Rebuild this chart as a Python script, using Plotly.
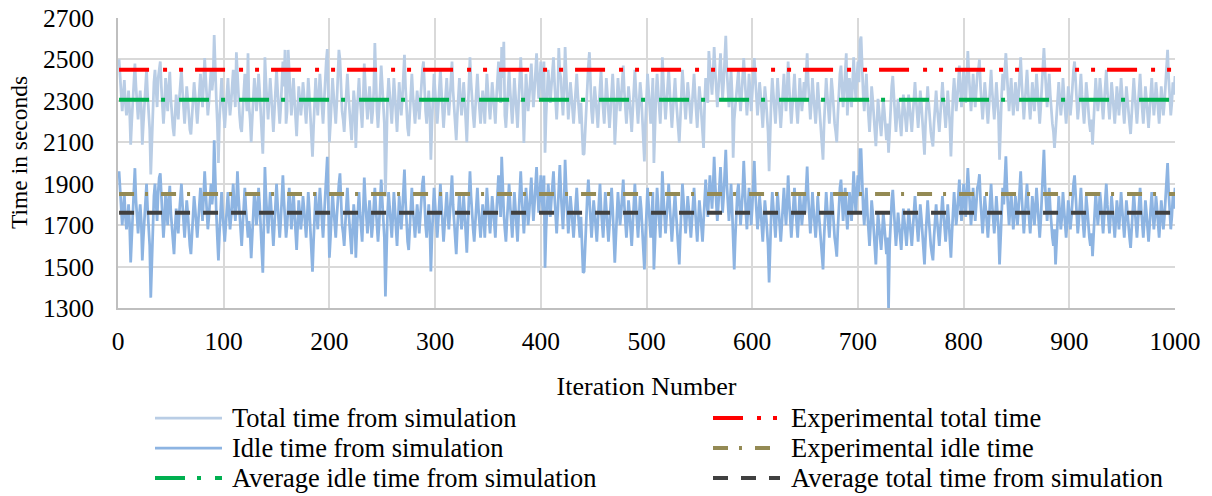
import plotly.graph_objects as go

# ---------------- data ----------------
total_time = [
    2500, 2420, 2310, 2250, 2330, 2400, 2290, 2230, 2270, 2350, 2250, 2088, 2200, 2310, 2420, 2480, 2370, 2260, 2210, 2290, 2350, 2270, 2088, 2190, 2300, 2390, 2450, 2330, 2240, 2160, 1945, 2120, 2270, 2390, 2450, 2350, 2270, 2410, 2470, 2490, 2370, 2250, 2190, 2270, 2410, 2330, 2250, 2370, 2440, 2310,
    2230, 2170, 2130, 2230, 2330, 2270, 2210, 2310, 2390, 2450, 2350, 2250, 2190, 2270, 2370, 2310, 2210, 2160, 2138, 2210, 2310, 2390, 2330, 2250, 2190, 2270, 2370, 2430, 2350, 2270, 2390, 2507, 2410, 2310, 2230, 2290, 2370, 2450, 2350, 2410, 2618, 2430, 2310, 2190, 2000, 2210, 2330, 2410, 2310, 2230,
    2170, 2250, 2350, 2410, 2310, 2230, 2290, 2390, 2450, 2350, 2270, 2534, 2420, 2310, 2230, 2170, 2150, 2250, 2350, 2430, 2330, 2250, 2530, 2270, 2210, 2100, 2210, 2330, 2410, 2350, 2250, 2310, 2430, 2350, 2250, 2170, 2045, 2250, 2510, 2390, 2270, 2210, 2310, 2410, 2330, 2230, 2150, 2250, 2370, 2450,
    2350, 2250, 2190, 2270, 2390, 2490, 2370, 2546, 2190, 2250, 2546, 2430, 2330, 2230, 2310, 2410, 2310, 2190, 2130, 2250, 2370, 2310, 2230, 2290, 2390, 2330, 2250, 2190, 2290, 2410, 2330, 2230, 2150, 2031, 2170, 2310, 2410, 2310, 2230, 2330, 2430, 2350, 2250, 2190, 2290, 2410, 2490, 2550, 2350, 2100,
    2190, 2310, 2410, 2330, 2250, 2190, 2290, 2390, 2546, 2500, 2350, 2250, 2210, 2150, 2250, 2350, 2430, 2330, 2250, 2190, 2110, 2230, 2350, 2290, 2073, 2230, 2330, 2410, 2310, 2230, 2170, 2310, 2480, 2370, 2270, 2210, 2290, 2370, 2290, 2190, 2250, 2350, 2579, 2330, 2250, 2170, 2250, 2350, 2470, 2370,
    2270, 2190, 1838, 2150, 2310, 2410, 2330, 2250, 2190, 2290, 2410, 2330, 2230, 2150, 2270, 2390, 2310, 2230, 2310, 2410, 2522, 2370, 2250, 2170, 2130, 2250, 2370, 2430, 2330, 2250, 2190, 2270, 2350, 2290, 2210, 2290, 2390, 2450, 2490, 2350, 2250, 2190, 2270, 2350, 2250, 2016, 2190, 2330, 2430, 2350,
    2250, 2190, 2270, 2390, 2450, 2350, 2250, 2170, 2250, 2350, 2410, 2310, 2230, 2310, 2430, 2490, 2350, 2250, 2190, 2110, 2230, 2350, 2410, 2310, 2230, 2290, 2390, 2310, 2210, 2100, 2250, 2370, 2510, 2390, 2290, 2230, 2170, 2270, 2370, 2430, 2330, 2250, 2190, 2270, 2350, 2290, 2190, 2310, 2430, 2350,
    2270, 2210, 2290, 2390, 2330, 2250, 2190, 2310, 2430, 2490, 2370, 2290, 2560, 2410, 2585, 2230, 2170, 2270, 2370, 2450, 2350, 2250, 2190, 2290, 2410, 2330, 2230, 2170, 2290, 2410, 2510, 2390, 2290, 2097, 2310, 2430, 2350, 2250, 2310, 2410, 2480, 2370, 2270, 2350, 2450, 2530, 2410, 2310, 2390, 2490,
    2390, 2310, 2490, 2050, 2230, 2350, 2450, 2370, 2290, 2370, 2450, 2510, 2390, 2290, 2210, 2310, 2555, 2440, 2410, 2310, 2230, 2350, 2560, 2430, 2310, 2210, 2290, 2390, 2330, 2250, 2190, 2270, 2370, 2430, 2330, 2250, 2190, 2290, 2150, 2040, 2045, 2170, 2290, 2390, 2470, 2535, 2350, 2250, 2190, 2270,
    2370, 2310, 2230, 2170, 2270, 2390, 2450, 2330, 2250, 2190, 2290, 2410, 2330, 2230, 2170, 2250, 2350, 2430, 2330, 2089, 2190, 2310, 2410, 2330, 2250, 2310, 2430, 2470, 2350, 2250, 2190, 2270, 2370, 2310, 2210, 2150, 2250, 2370, 2450, 2350, 2250, 2190, 2290, 2390, 2330, 2230, 2150, 2008, 2190, 2330,
    2430, 2350, 2250, 2190, 2290, 2410, 2000, 2190, 2330, 2430, 2350, 2250, 2190, 2310, 2510, 2390, 2290, 2210, 2290, 2390, 2450, 2350, 2250, 2170, 2250, 2350, 2410, 2310, 2230, 2170, 2098, 2210, 2330, 2450, 2370, 2270, 2210, 2290, 2390, 2330, 2250, 2190, 2270, 2370, 2430, 2330, 2230, 2170, 2270, 2370,
    2310, 2230, 2170, 2073, 2290, 2410, 2370, 2290, 2540, 2450, 2410, 2330, 2430, 2560, 2450, 2350, 2270, 2350, 2470, 2530, 2410, 2310, 2390, 2510, 2614, 2450, 2350, 2270, 2350, 2450, 2330, 2026, 2210, 2270, 2330, 2410, 2450, 2330, 2250, 2330, 2410, 2506, 2410, 2310, 2230, 2310, 2430, 2350, 2250, 2330,
    2430, 2506, 2410, 2310, 2230, 2290, 2390, 2330, 2230, 2170, 2270, 2370, 2310, 2230, 2150, 1960, 2190, 2310, 2410, 2330, 2250, 2190, 2290, 2410, 2330, 2250, 2170, 2250, 2350, 2430, 2330, 2250, 2350, 2490, 2370, 2270, 2190, 2270, 2370, 2430, 2330, 2250, 2190, 2290, 2410, 2330, 2250, 2310, 2390, 2310,
    2410, 2530, 2390, 2290, 2210, 2290, 2410, 2330, 2250, 2190, 2270, 2390, 2310, 2230, 2170, 2110, 2016, 2190, 2310, 2410, 2330, 2250, 2190, 2290, 2410, 2350, 2250, 2190, 2150, 2100, 2230, 2350, 2430, 2470, 2350, 2270, 2350, 2430, 2530, 2230, 2310, 2410, 2350, 2270, 2390, 2510, 2390, 2310, 2410, 2490,
    2390, 2590, 2610, 2450, 2330, 2250, 2350, 2430, 2310, 2210, 2150, 2250, 2370, 2310, 2210, 2150, 2081, 2190, 2310, 2250, 2170, 2130, 2210, 2310, 2250, 2170, 2110, 2190, 2050, 2150, 2310, 2370, 2420, 2310, 2210, 2150, 2230, 2310, 2250, 2170, 2130, 2230, 2330, 2270, 2190, 2150, 2230, 2330, 2270, 2190,
    2150, 2230, 2330, 2390, 2310, 2230, 2170, 2250, 2350, 2290, 2210, 2150, 2040, 2190, 2310, 2370, 2290, 2210, 2150, 2110, 2080, 2190, 2290, 2350, 2270, 2190, 2150, 2230, 2330, 2390, 2310, 2230, 2170, 2250, 2350, 2270, 2190, 2032, 2210, 2330, 2410, 2330, 2250, 2310, 2410, 2470, 2350, 2270, 2350, 2450,
    2370, 2290, 2410, 2540, 2430, 2330, 2250, 2330, 2430, 2350, 2270, 2350, 2430, 2450, 2500, 2370, 2270, 2210, 2290, 2390, 2330, 2250, 2190, 2270, 2390, 2450, 2350, 2270, 2210, 2290, 2390, 2310, 2230, 2016, 2210, 2330, 2430, 2350, 2450, 2530, 2430, 2330, 2250, 2330, 2410, 2310, 2230, 2290, 2390, 2330,
    2250, 2330, 2430, 2510, 2390, 2290, 2210, 2290, 2390, 2450, 2350, 2270, 2210, 2290, 2390, 2330, 2250, 2330, 2430, 2350, 2270, 2190, 2270, 2390, 2510, 2555, 2450, 2350, 2270, 2350, 2430, 2330, 2250, 2190, 2150, 2073, 2150, 2250, 2330, 2390, 2310, 2230, 2290, 2410, 2330, 2250, 2190, 2270, 2370, 2310,
    2230, 2290, 2390, 2450, 2490, 2370, 2290, 2210, 2270, 2370, 2430, 2330, 2250, 2190, 2270, 2390, 2330, 2250, 2190, 2150, 2210, 2089, 2210, 2330, 2410, 2330, 2250, 2310, 2410, 2350, 2270, 2210, 2290, 2390, 2450, 2350, 2270, 2210, 2290, 2390, 2330, 2250, 2190, 2270, 2370, 2310, 2230, 2310, 2410, 2330,
    2250, 2190, 2270, 2370, 2310, 2230, 2190, 2140, 2230, 2330, 2410, 2330, 2250, 2190, 2270, 2370, 2430, 2330, 2250, 2190, 2270, 2370, 2310, 2230, 2170, 2250, 2350, 2410, 2310, 2230, 2290, 2390, 2330, 2250, 2190, 2270, 2370, 2310, 2230, 2290, 2390, 2450, 2546, 2410, 2310, 2230, 2290, 2390, 2330, 2420,
]

idle_time = [
    1960, 1880, 1760, 1700, 1780, 1850, 1740, 1680, 1720, 1800, 1700, 1520, 1640, 1760, 1880, 1975, 1820, 1700, 1660, 1740, 1800, 1720, 1530, 1640, 1750, 1840, 1900, 1780, 1690, 1600, 1350, 1560, 1720, 1840, 1900, 1800, 1720, 1860, 1930, 1950, 1820, 1700, 1640, 1720, 1860, 1780, 1700, 1820, 1890, 1760,
    1680, 1620, 1560, 1680, 1780, 1720, 1660, 1760, 1840, 1900, 1800, 1700, 1640, 1720, 1820, 1760, 1660, 1600, 1560, 1660, 1760, 1840, 1780, 1700, 1640, 1720, 1820, 1880, 1800, 1720, 1840, 1960, 1860, 1760, 1680, 1740, 1820, 1900, 1800, 1860, 2110, 1880, 1760, 1640, 1530, 1660, 1780, 1860, 1760, 1680,
    1620, 1700, 1800, 1860, 1760, 1680, 1740, 1840, 1900, 1800, 1720, 1800, 1960, 1840, 1740, 1660, 1600, 1700, 1800, 1880, 1780, 1700, 1640, 1720, 1660, 1540, 1660, 1780, 1860, 1800, 1700, 1760, 1880, 1800, 1700, 1620, 1470, 1700, 1980, 1840, 1720, 1660, 1760, 1860, 1780, 1680, 1600, 1700, 1820, 1900,
    1800, 1700, 1640, 1720, 1840, 1940, 1820, 1720, 1640, 1700, 1800, 1880, 1780, 1680, 1760, 1860, 1760, 1640, 1580, 1700, 1820, 1760, 1680, 1740, 1840, 1780, 1700, 1640, 1740, 1860, 1780, 1680, 1600, 1475, 1620, 1760, 1860, 1760, 1680, 1780, 1880, 1800, 1700, 1640, 1740, 1860, 1940, 2030, 1800, 1543,
    1640, 1760, 1860, 1780, 1700, 1640, 1740, 1840, 1900, 1950, 1800, 1700, 1660, 1600, 1700, 1800, 1880, 1780, 1700, 1640, 1560, 1680, 1800, 1740, 1543, 1680, 1780, 1860, 1760, 1680, 1620, 1760, 1930, 1820, 1720, 1660, 1740, 1820, 1740, 1640, 1700, 1800, 1880, 1780, 1700, 1620, 1700, 1800, 1920, 1820,
    1720, 1640, 1356, 1600, 1760, 1860, 1780, 1700, 1640, 1740, 1860, 1780, 1680, 1600, 1720, 1840, 1760, 1680, 1760, 1860, 1968, 1820, 1700, 1620, 1580, 1700, 1820, 1880, 1780, 1700, 1640, 1720, 1800, 1740, 1660, 1740, 1840, 1900, 1938, 1800, 1700, 1640, 1720, 1800, 1700, 1476, 1640, 1780, 1880, 1800,
    1700, 1640, 1720, 1840, 1900, 1800, 1700, 1620, 1700, 1800, 1860, 1760, 1680, 1760, 1880, 1940, 1800, 1700, 1640, 1560, 1680, 1800, 1860, 1760, 1680, 1740, 1840, 1760, 1660, 1567, 1700, 1820, 1960, 1840, 1740, 1680, 1620, 1720, 1820, 1880, 1780, 1700, 1640, 1720, 1800, 1740, 1640, 1760, 1880, 1800,
    1720, 1660, 1740, 1840, 1780, 1700, 1640, 1760, 1880, 1940, 1820, 1740, 2030, 1860, 1760, 1680, 1620, 1720, 1820, 1900, 1800, 1700, 1640, 1740, 1860, 1780, 1680, 1620, 1740, 1860, 1960, 1840, 1740, 1660, 1760, 1880, 1800, 1700, 1760, 1860, 1930, 1820, 1720, 1800, 1900, 1980, 1860, 1760, 1840, 1940,
    1840, 1760, 1940, 1495, 1680, 1800, 1900, 1820, 1740, 1820, 1900, 1960, 1840, 1740, 1660, 1760, 1880, 1990, 1860, 1760, 1680, 1800, 2015, 1880, 1760, 1660, 1740, 1840, 1780, 1700, 1640, 1720, 1820, 1880, 1780, 1700, 1640, 1740, 1600, 1470, 1476, 1620, 1740, 1840, 1920, 1800, 1700, 1640, 1720, 1820,
    1760, 1680, 1620, 1720, 1840, 1900, 1780, 1700, 1640, 1740, 1860, 1780, 1680, 1620, 1700, 1800, 1880, 1780, 1680, 1519, 1640, 1760, 1860, 1780, 1700, 1760, 1880, 1920, 1800, 1700, 1640, 1720, 1820, 1760, 1660, 1600, 1700, 1820, 1900, 1800, 1700, 1640, 1740, 1840, 1780, 1680, 1600, 1486, 1640, 1780,
    1880, 1800, 1700, 1640, 1740, 1860, 1486, 1640, 1780, 1880, 1800, 1700, 1640, 1760, 1960, 1840, 1740, 1660, 1740, 1840, 1900, 1800, 1700, 1620, 1700, 1800, 1860, 1760, 1680, 1620, 1510, 1660, 1780, 1900, 1820, 1720, 1660, 1740, 1840, 1780, 1700, 1640, 1720, 1820, 1880, 1780, 1680, 1620, 1720, 1820,
    1760, 1680, 1620, 1720, 1840, 1920, 1820, 1740, 1840, 1940, 1860, 1780, 1880, 2030, 1900, 1800, 1720, 1800, 1920, 1980, 1860, 1760, 1840, 1960, 2064, 1900, 1800, 1720, 1800, 1900, 1780, 1660, 1486, 1640, 1780, 1860, 1900, 1780, 1700, 1780, 1860, 2010, 1860, 1760, 1680, 1760, 1880, 1800, 1700, 1780,
    1880, 2010, 1860, 1760, 1680, 1740, 1840, 1780, 1680, 1620, 1720, 1820, 1760, 1680, 1600, 1423, 1640, 1760, 1860, 1780, 1700, 1640, 1740, 1860, 1780, 1700, 1620, 1700, 1800, 1880, 1780, 1700, 1800, 1940, 1820, 1720, 1640, 1720, 1820, 1880, 1780, 1700, 1640, 1740, 1860, 1780, 1700, 1760, 1840, 1760,
    1860, 1983, 1840, 1740, 1660, 1740, 1860, 1780, 1700, 1640, 1720, 1840, 1760, 1680, 1620, 1560, 1486, 1640, 1760, 1860, 1780, 1700, 1640, 1740, 1860, 1800, 1700, 1640, 1600, 1548, 1680, 1800, 1880, 1920, 1800, 1720, 1800, 1880, 1760, 1680, 1760, 1860, 1800, 1720, 1840, 1960, 1840, 1760, 1860, 1940,
    1840, 2064, 2064, 1900, 1780, 1700, 1800, 1880, 1760, 1660, 1600, 1700, 1820, 1760, 1660, 1600, 1510, 1640, 1760, 1700, 1620, 1580, 1660, 1760, 1700, 1620, 1560, 1640, 1293, 1600, 1760, 1820, 1870, 1760, 1660, 1600, 1680, 1760, 1700, 1620, 1580, 1680, 1780, 1720, 1640, 1600, 1680, 1780, 1720, 1640,
    1600, 1680, 1780, 1840, 1760, 1680, 1620, 1700, 1800, 1740, 1660, 1600, 1510, 1640, 1760, 1820, 1740, 1660, 1600, 1560, 1530, 1640, 1740, 1800, 1720, 1640, 1600, 1680, 1780, 1840, 1760, 1680, 1620, 1700, 1800, 1720, 1640, 1543, 1660, 1780, 1860, 1780, 1700, 1760, 1860, 1920, 1800, 1720, 1800, 1900,
    1820, 1740, 1860, 1975, 1880, 1780, 1700, 1780, 1880, 1800, 1720, 1800, 1880, 1900, 1946, 1820, 1720, 1660, 1740, 1840, 1780, 1700, 1640, 1720, 1840, 1900, 1800, 1720, 1660, 1740, 1840, 1760, 1680, 1510, 1660, 1780, 1880, 1800, 1900, 2032, 1880, 1780, 1700, 1780, 1860, 1760, 1680, 1740, 1840, 1780,
    1700, 1780, 1880, 1960, 1840, 1740, 1660, 1740, 1840, 1900, 1800, 1720, 1660, 1740, 1840, 1780, 1700, 1780, 1880, 1800, 1720, 1640, 1720, 1840, 1960, 2064, 1900, 1800, 1720, 1800, 1880, 1780, 1700, 1640, 1600, 1680, 1510, 1640, 1760, 1840, 1760, 1680, 1740, 1860, 1780, 1700, 1640, 1720, 1820, 1760,
    1680, 1740, 1840, 1900, 1940, 1820, 1740, 1660, 1720, 1820, 1880, 1780, 1700, 1640, 1720, 1840, 1780, 1700, 1640, 1600, 1660, 1550, 1660, 1780, 1860, 1780, 1700, 1760, 1860, 1800, 1720, 1660, 1740, 1840, 1900, 1800, 1720, 1660, 1740, 1840, 1780, 1700, 1640, 1720, 1820, 1760, 1680, 1760, 1860, 1780,
    1700, 1640, 1720, 1820, 1760, 1680, 1640, 1590, 1680, 1780, 1860, 1780, 1700, 1640, 1720, 1820, 1880, 1780, 1700, 1640, 1720, 1820, 1760, 1680, 1620, 1700, 1800, 1860, 1760, 1680, 1740, 1840, 1780, 1700, 1640, 1720, 1820, 1760, 1680, 1740, 1840, 1900, 2000, 1860, 1760, 1680, 1740, 1840, 1780, 1880,
]

iterations = list(range(1, len(total_time) + 1))

exp_total_time = [2450, 2450]
exp_idle_time = [1850, 1850]
avg_idle_time_sim = [2305, 2305]
avg_total_time_sim = [1760, 1760]
line_span = [iterations[0], iterations[-1]]

x_tick_vals = list(range(0, 1001, 100))
y_tick_vals = list(range(1300, 2701, 200))

x_title = "Iteration Number"
y_title = "Time in seconds"

series_names = [
    "Total time from simulation",
    "Experimental total time",
    "Idle time from simulation",
    "Experimental idle time",
    "Average idle time from simulation",
    "Average total time from simulation",
]

# ---------------- styles ----------------
FONT = "Liberation Serif"
W, H = 1212, 496
ML, MR, MT, MB = 118, 37, 18, 188
PW, PH = W - ML - MR, H - MT - MB

styles = {
    "Total time from simulation": dict(color="#B9CDE5", width=2.75, dash="solid"),
    "Idle time from simulation": dict(color="#8DB4E2", width=2.75, dash="solid"),
    "Experimental total time": dict(color="#FF0000", width=4, dash="30px,14px,4px,12px,4px,12px"),
    "Average idle time from simulation": dict(color="#00B050", width=4, dash="30px,12px,4px,14px"),
    "Experimental idle time": dict(color="#948A54", width=4, dash="15px,11px,3px,13px"),
    "Average total time from simulation": dict(color="#404040", width=4, dash="15px,13px"),
}

fig = go.Figure()

fig.add_trace(go.Scatter(x=iterations, y=total_time, mode="lines",
                         name=series_names[0], line=styles[series_names[0]],
                         showlegend=False))
fig.add_trace(go.Scatter(x=iterations, y=idle_time, mode="lines",
                         name=series_names[2], line=styles[series_names[2]],
                         showlegend=False))
for nm, vals in [(series_names[1], exp_total_time),
                 (series_names[4], avg_idle_time_sim),
                 (series_names[3], exp_idle_time),
                 (series_names[5], avg_total_time_sim)]:
    fig.add_trace(go.Scatter(x=line_span, y=vals, mode="lines", name=nm,
                             line=styles[nm], showlegend=False))

# ---------------- legend (two columns, three rows) ----------------
def px_x(px):
    return (px - ML) / PW

def px_y(py):
    return (H - MB - py) / PH

col_sym = [155, 713]
col_txt = [230, 789]
row_y = [418, 448, 478]
sym_len = 67

shapes, annos = [], []
for i, nm in enumerate(series_names):
    r, c = divmod(i, 2)
    st = styles[nm]
    shapes.append(dict(type="line", xref="paper", yref="paper",
                       x0=px_x(col_sym[c]), x1=px_x(col_sym[c] + sym_len),
                       y0=px_y(row_y[r]), y1=px_y(row_y[r]),
                       line=dict(color=st["color"], width=st["width"], dash=st["dash"])))
    annos.append(dict(text=nm, xref="paper", yref="paper",
                      x=px_x(col_txt[c]), y=px_y(row_y[r]),
                      xanchor="left", yanchor="middle", showarrow=False,
                      font=dict(family=FONT, size=26.5, color="black")))

# y-axis title placed like the reference (slightly above plot centre)
annos.append(dict(text=y_title, xref="paper", yref="paper",
                  x=px_x(19), y=px_y(153), textangle=-90,
                  xanchor="center", yanchor="middle", showarrow=False,
                  font=dict(family=FONT, size=23.5, color="black")))

fig.update_layout(
    width=W, height=H,
    margin=dict(l=ML, r=MR, t=MT, b=MB, autoexpand=False),
    paper_bgcolor="white", plot_bgcolor="white",
    font=dict(family=FONT, size=25, color="black"),
    shapes=shapes, annotations=annos,
    showlegend=False,
)

fig.update_xaxes(
    range=[0, 1000], tickvals=x_tick_vals, ticks="", ticklabelstandoff=9,
    showgrid=True, gridcolor="#D9D9D9", gridwidth=1.5,
    showline=True, linecolor="#BFBFBF", linewidth=2, zeroline=False,
    tickfont=dict(family=FONT, size=25.5, color="black"),
    title=dict(text=x_title, standoff=22,
               font=dict(family=FONT, size=26, color="black")),
    automargin=False,
)
fig.update_yaxes(
    range=[1300, 2700], tickvals=y_tick_vals, ticks="", ticklabelstandoff=17,
    showgrid=True, gridcolor="#D9D9D9", gridwidth=1.5,
    showline=True, linecolor="#BFBFBF", linewidth=2, zeroline=False,
    tickfont=dict(family=FONT, size=25.5, color="black"),
    automargin=False,
)

fig.write_html("out.html")
